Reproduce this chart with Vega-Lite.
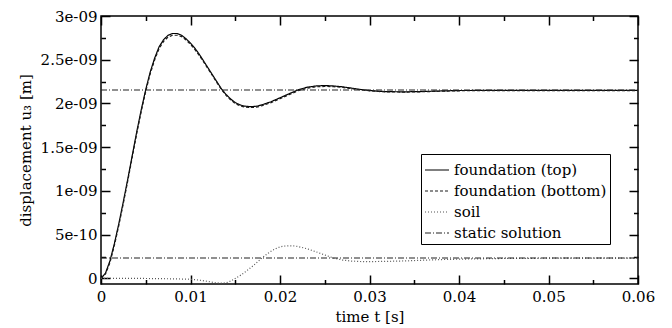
{
  "$schema": "https://vega.github.io/schema/vega-lite/v6.json",
  "width": 537,
  "height": 268,
  "autosize": "none",
  "padding": {"left": 101, "top": 16, "right": 34, "bottom": 44},
  "background": "white",
  "config": {
    "view": {"stroke": "black", "strokeWidth": 1.5},
    "font": "DejaVu Serif",
    "axis": {"domain": false, "grid": false, "labelFont": "DejaVu Serif", "labelFontSize": 15, "labelColor": "black", "titleFont": "DejaVu Serif", "titleFontSize": 15, "titleFontWeight": "normal", "titleColor": "black", "tickColor": "black", "tickWidth": 1.5, "labelOverlap": false, "labelFlush": false},
    "legend": {"orient": "none", "legendX": 320, "legendY": 138, "fillColor": "white", "strokeColor": "black", "padding": 3, "labelFont": "DejaVu Serif", "labelFontSize": 15, "labelColor": "black", "symbolType": "stroke", "symbolSize": 576, "symbolStrokeWidth": 1.2, "rowPadding": -3, "labelOffset": 4, "labelLimit": 300}
  },
  "data": {"values": [
    {"t":0,"v":0,"s":"foundation (top)"},
    {"t":0.0005,"v":0.06e-9,"s":"foundation (top)"},
    {"t":0.001,"v":0.2e-9,"s":"foundation (top)"},
    {"t":0.0015,"v":0.4e-9,"s":"foundation (top)"},
    {"t":0.002,"v":0.63e-9,"s":"foundation (top)"},
    {"t":0.0025,"v":0.88e-9,"s":"foundation (top)"},
    {"t":0.003,"v":1.14e-9,"s":"foundation (top)"},
    {"t":0.0035,"v":1.41e-9,"s":"foundation (top)"},
    {"t":0.004,"v":1.68e-9,"s":"foundation (top)"},
    {"t":0.0045,"v":1.93e-9,"s":"foundation (top)"},
    {"t":0.005,"v":2.16e-9,"s":"foundation (top)"},
    {"t":0.0055,"v":2.36e-9,"s":"foundation (top)"},
    {"t":0.006,"v":2.52e-9,"s":"foundation (top)"},
    {"t":0.0065,"v":2.65e-9,"s":"foundation (top)"},
    {"t":0.007,"v":2.73e-9,"s":"foundation (top)"},
    {"t":0.0075,"v":2.78e-9,"s":"foundation (top)"},
    {"t":0.008,"v":2.8e-9,"s":"foundation (top)"},
    {"t":0.0085,"v":2.8e-9,"s":"foundation (top)"},
    {"t":0.009,"v":2.78e-9,"s":"foundation (top)"},
    {"t":0.0095,"v":2.74e-9,"s":"foundation (top)"},
    {"t":0.01,"v":2.69e-9,"s":"foundation (top)"},
    {"t":0.0105,"v":2.63e-9,"s":"foundation (top)"},
    {"t":0.011,"v":2.56e-9,"s":"foundation (top)"},
    {"t":0.0115,"v":2.48e-9,"s":"foundation (top)"},
    {"t":0.012,"v":2.4e-9,"s":"foundation (top)"},
    {"t":0.0125,"v":2.32e-9,"s":"foundation (top)"},
    {"t":0.013,"v":2.24e-9,"s":"foundation (top)"},
    {"t":0.0135,"v":2.16e-9,"s":"foundation (top)"},
    {"t":0.014,"v":2.1e-9,"s":"foundation (top)"},
    {"t":0.0145,"v":2.05e-9,"s":"foundation (top)"},
    {"t":0.015,"v":2.01e-9,"s":"foundation (top)"},
    {"t":0.0155,"v":1.985e-9,"s":"foundation (top)"},
    {"t":0.016,"v":1.97e-9,"s":"foundation (top)"},
    {"t":0.0165,"v":1.965e-9,"s":"foundation (top)"},
    {"t":0.017,"v":1.965e-9,"s":"foundation (top)"},
    {"t":0.0175,"v":1.97e-9,"s":"foundation (top)"},
    {"t":0.018,"v":1.985e-9,"s":"foundation (top)"},
    {"t":0.019,"v":2.02e-9,"s":"foundation (top)"},
    {"t":0.02,"v":2.065e-9,"s":"foundation (top)"},
    {"t":0.021,"v":2.11e-9,"s":"foundation (top)"},
    {"t":0.022,"v":2.155e-9,"s":"foundation (top)"},
    {"t":0.023,"v":2.185e-9,"s":"foundation (top)"},
    {"t":0.024,"v":2.2e-9,"s":"foundation (top)"},
    {"t":0.025,"v":2.205e-9,"s":"foundation (top)"},
    {"t":0.026,"v":2.2e-9,"s":"foundation (top)"},
    {"t":0.027,"v":2.19e-9,"s":"foundation (top)"},
    {"t":0.028,"v":2.175e-9,"s":"foundation (top)"},
    {"t":0.029,"v":2.16e-9,"s":"foundation (top)"},
    {"t":0.03,"v":2.148e-9,"s":"foundation (top)"},
    {"t":0.031,"v":2.14e-9,"s":"foundation (top)"},
    {"t":0.032,"v":2.135e-9,"s":"foundation (top)"},
    {"t":0.034,"v":2.133e-9,"s":"foundation (top)"},
    {"t":0.036,"v":2.137e-9,"s":"foundation (top)"},
    {"t":0.038,"v":2.143e-9,"s":"foundation (top)"},
    {"t":0.04,"v":2.148e-9,"s":"foundation (top)"},
    {"t":0.045,"v":2.15e-9,"s":"foundation (top)"},
    {"t":0.05,"v":2.149e-9,"s":"foundation (top)"},
    {"t":0.055,"v":2.149e-9,"s":"foundation (top)"},
    {"t":0.06,"v":2.149e-9,"s":"foundation (top)"},

    {"t":0,"v":0,"s":"foundation (bottom)"},
    {"t":0.0005,"v":0.05e-9,"s":"foundation (bottom)"},
    {"t":0.001,"v":0.18e-9,"s":"foundation (bottom)"},
    {"t":0.0015,"v":0.38e-9,"s":"foundation (bottom)"},
    {"t":0.002,"v":0.61e-9,"s":"foundation (bottom)"},
    {"t":0.0025,"v":0.86e-9,"s":"foundation (bottom)"},
    {"t":0.003,"v":1.12e-9,"s":"foundation (bottom)"},
    {"t":0.0035,"v":1.39e-9,"s":"foundation (bottom)"},
    {"t":0.004,"v":1.66e-9,"s":"foundation (bottom)"},
    {"t":0.0045,"v":1.91e-9,"s":"foundation (bottom)"},
    {"t":0.005,"v":2.14e-9,"s":"foundation (bottom)"},
    {"t":0.0055,"v":2.34e-9,"s":"foundation (bottom)"},
    {"t":0.006,"v":2.5e-9,"s":"foundation (bottom)"},
    {"t":0.0065,"v":2.63e-9,"s":"foundation (bottom)"},
    {"t":0.007,"v":2.71e-9,"s":"foundation (bottom)"},
    {"t":0.0075,"v":2.76e-9,"s":"foundation (bottom)"},
    {"t":0.008,"v":2.78e-9,"s":"foundation (bottom)"},
    {"t":0.0085,"v":2.78e-9,"s":"foundation (bottom)"},
    {"t":0.009,"v":2.765e-9,"s":"foundation (bottom)"},
    {"t":0.0095,"v":2.725e-9,"s":"foundation (bottom)"},
    {"t":0.01,"v":2.675e-9,"s":"foundation (bottom)"},
    {"t":0.0105,"v":2.615e-9,"s":"foundation (bottom)"},
    {"t":0.011,"v":2.545e-9,"s":"foundation (bottom)"},
    {"t":0.0115,"v":2.47e-9,"s":"foundation (bottom)"},
    {"t":0.012,"v":2.39e-9,"s":"foundation (bottom)"},
    {"t":0.0125,"v":2.31e-9,"s":"foundation (bottom)"},
    {"t":0.013,"v":2.23e-9,"s":"foundation (bottom)"},
    {"t":0.0135,"v":2.155e-9,"s":"foundation (bottom)"},
    {"t":0.014,"v":2.09e-9,"s":"foundation (bottom)"},
    {"t":0.0145,"v":2.04e-9,"s":"foundation (bottom)"},
    {"t":0.015,"v":2.0e-9,"s":"foundation (bottom)"},
    {"t":0.0155,"v":1.975e-9,"s":"foundation (bottom)"},
    {"t":0.016,"v":1.96e-9,"s":"foundation (bottom)"},
    {"t":0.0165,"v":1.955e-9,"s":"foundation (bottom)"},
    {"t":0.017,"v":1.955e-9,"s":"foundation (bottom)"},
    {"t":0.0175,"v":1.96e-9,"s":"foundation (bottom)"},
    {"t":0.018,"v":1.975e-9,"s":"foundation (bottom)"},
    {"t":0.019,"v":2.01e-9,"s":"foundation (bottom)"},
    {"t":0.02,"v":2.055e-9,"s":"foundation (bottom)"},
    {"t":0.021,"v":2.1e-9,"s":"foundation (bottom)"},
    {"t":0.022,"v":2.145e-9,"s":"foundation (bottom)"},
    {"t":0.023,"v":2.175e-9,"s":"foundation (bottom)"},
    {"t":0.024,"v":2.19e-9,"s":"foundation (bottom)"},
    {"t":0.025,"v":2.195e-9,"s":"foundation (bottom)"},
    {"t":0.026,"v":2.192e-9,"s":"foundation (bottom)"},
    {"t":0.027,"v":2.183e-9,"s":"foundation (bottom)"},
    {"t":0.028,"v":2.17e-9,"s":"foundation (bottom)"},
    {"t":0.029,"v":2.156e-9,"s":"foundation (bottom)"},
    {"t":0.03,"v":2.145e-9,"s":"foundation (bottom)"},
    {"t":0.031,"v":2.137e-9,"s":"foundation (bottom)"},
    {"t":0.032,"v":2.132e-9,"s":"foundation (bottom)"},
    {"t":0.034,"v":2.13e-9,"s":"foundation (bottom)"},
    {"t":0.036,"v":2.134e-9,"s":"foundation (bottom)"},
    {"t":0.038,"v":2.14e-9,"s":"foundation (bottom)"},
    {"t":0.04,"v":2.145e-9,"s":"foundation (bottom)"},
    {"t":0.045,"v":2.147e-9,"s":"foundation (bottom)"},
    {"t":0.05,"v":2.146e-9,"s":"foundation (bottom)"},
    {"t":0.055,"v":2.146e-9,"s":"foundation (bottom)"},
    {"t":0.06,"v":2.146e-9,"s":"foundation (bottom)"},

    {"t":0,"v":0,"s":"soil"},
    {"t":0.002,"v":0,"s":"soil"},
    {"t":0.004,"v":0,"s":"soil"},
    {"t":0.006,"v":-0.002e-9,"s":"soil"},
    {"t":0.008,"v":-0.005e-9,"s":"soil"},
    {"t":0.009,"v":-0.007e-9,"s":"soil"},
    {"t":0.01,"v":-0.01e-9,"s":"soil"},
    {"t":0.011,"v":-0.02e-9,"s":"soil"},
    {"t":0.012,"v":-0.035e-9,"s":"soil"},
    {"t":0.0125,"v":-0.045e-9,"s":"soil"},
    {"t":0.013,"v":-0.052e-9,"s":"soil"},
    {"t":0.0135,"v":-0.055e-9,"s":"soil"},
    {"t":0.014,"v":-0.05e-9,"s":"soil"},
    {"t":0.0145,"v":-0.03e-9,"s":"soil"},
    {"t":0.015,"v":0,"s":"soil"},
    {"t":0.0155,"v":0.03e-9,"s":"soil"},
    {"t":0.016,"v":0.065e-9,"s":"soil"},
    {"t":0.0165,"v":0.105e-9,"s":"soil"},
    {"t":0.017,"v":0.145e-9,"s":"soil"},
    {"t":0.0175,"v":0.19e-9,"s":"soil"},
    {"t":0.018,"v":0.235e-9,"s":"soil"},
    {"t":0.0185,"v":0.275e-9,"s":"soil"},
    {"t":0.019,"v":0.31e-9,"s":"soil"},
    {"t":0.0195,"v":0.34e-9,"s":"soil"},
    {"t":0.02,"v":0.36e-9,"s":"soil"},
    {"t":0.0205,"v":0.37e-9,"s":"soil"},
    {"t":0.021,"v":0.373e-9,"s":"soil"},
    {"t":0.0215,"v":0.372e-9,"s":"soil"},
    {"t":0.022,"v":0.365e-9,"s":"soil"},
    {"t":0.023,"v":0.34e-9,"s":"soil"},
    {"t":0.024,"v":0.305e-9,"s":"soil"},
    {"t":0.025,"v":0.268e-9,"s":"soil"},
    {"t":0.026,"v":0.232e-9,"s":"soil"},
    {"t":0.027,"v":0.21e-9,"s":"soil"},
    {"t":0.028,"v":0.198e-9,"s":"soil"},
    {"t":0.029,"v":0.193e-9,"s":"soil"},
    {"t":0.03,"v":0.192e-9,"s":"soil"},
    {"t":0.032,"v":0.195e-9,"s":"soil"},
    {"t":0.034,"v":0.2e-9,"s":"soil"},
    {"t":0.036,"v":0.208e-9,"s":"soil"},
    {"t":0.038,"v":0.215e-9,"s":"soil"},
    {"t":0.04,"v":0.22e-9,"s":"soil"},
    {"t":0.045,"v":0.228e-9,"s":"soil"},
    {"t":0.05,"v":0.231e-9,"s":"soil"},
    {"t":0.055,"v":0.232e-9,"s":"soil"},
    {"t":0.06,"v":0.232e-9,"s":"soil"},

    {"t":0,"v":2.154e-9,"s":"static solution","part":"foundation"},
    {"t":0.06,"v":2.154e-9,"s":"static solution","part":"foundation"},
    {"t":0,"v":0.233e-9,"s":"static solution","part":"soil"},
    {"t":0.06,"v":0.233e-9,"s":"static solution","part":"soil"}
  ]},
  "layer": [
    {
      "mark": {"type": "line", "strokeWidth": 1.2, "clip": true},
      "encoding": {
        "x": {"field": "t", "type": "quantitative", "scale": {"domain": [0, 0.06], "nice": false},
          "axis": {"orient": "bottom", "title": "time t [s]", "titlePadding": 1,
            "values": [0,0.005,0.01,0.015,0.02,0.025,0.03,0.035,0.04,0.045,0.05,0.055,0.06],
            "tickSize": {"condition": {"test": "round(datum.value*200) % 2 == 0", "value": -9}, "value": -4.5},
            "labelPadding": 14,
            "labelExpr": "round(datum.value*200) % 2 == 0 ? format(datum.value, '.2~f') : ''"}},
        "y": {"field": "v", "type": "quantitative", "scale": {"domain": [-6.4e-11, 3e-9], "nice": false, "zero": false},
          "axis": {"orient": "left", "title": "displacement u₃ [m]", "titlePadding": 7,
            "values": [0,2.5e-10,5e-10,7.5e-10,1e-9,1.25e-9,1.5e-9,1.75e-9,2e-9,2.25e-9,2.5e-9,2.75e-9,3e-9],
            "tickSize": {"condition": {"test": "round(datum.value*4e9) % 2 == 0", "value": -9}, "value": -4.5},
            "labelPadding": 13,
            "labelExpr": "datum.value == 0 ? '0' : (round(datum.value*4e9) % 2 == 0 ? replace(format(datum.value, '~e'), 'e-9', 'e-09') : '')"}},
        "strokeDash": {"field": "s", "type": "nominal", "title": null,
          "scale": {"domain": ["foundation (top)", "foundation (bottom)", "soil", "static solution"], "range": [[1,0],[3,2],[1,2],[6,2,1,2]]}},
        "color": {"field": "s", "type": "nominal", "title": null,
          "scale": {"domain": ["foundation (top)", "foundation (bottom)", "soil", "static solution"], "range": ["#000000", "#1a1a1a", "#555555", "#222222"]}},
        "detail": {"field": "part", "type": "nominal"}
      }
    },
    {
      "mark": {"type": "point", "opacity": 0},
      "encoding": {
        "x": {"field": "t", "type": "quantitative",
          "axis": {"orient": "top", "title": null, "labels": false,
            "values": [0,0.005,0.01,0.015,0.02,0.025,0.03,0.035,0.04,0.045,0.05,0.055,0.06],
            "tickSize": {"condition": {"test": "round(datum.value*200) % 2 == 0", "value": -9}, "value": -4.5}}},
        "y": {"field": "v", "type": "quantitative",
          "axis": {"orient": "right", "title": null, "labels": false,
            "values": [0,2.5e-10,5e-10,7.5e-10,1e-9,1.25e-9,1.5e-9,1.75e-9,2e-9,2.25e-9,2.5e-9,2.75e-9,3e-9],
            "tickSize": {"condition": {"test": "round(datum.value*4e9) % 2 == 0", "value": -9}, "value": -4.5}}}
      }
    }
  ],
  "resolve": {"axis": {"x": "independent", "y": "independent"}}
}
